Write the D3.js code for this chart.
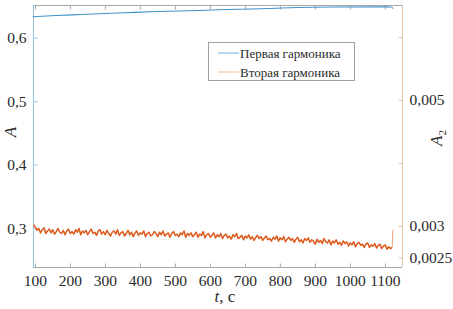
<!DOCTYPE html>
<html><head><meta charset="utf-8">
<script src="https://cdn.jsdelivr.net/npm/d3@7"></script>
<style>body{margin:0;background:#fff}svg{display:block}</style>
</head><body><svg id="c" width="453" height="309"></svg>
<script>
const xTicks = [100,200,300,400,500,600,700,800,900,1000,1100];
const leftTicks = [0.3,0.4,0.5,0.6];
const leftTickLabels = ["0,3","0,4","0,5","0,6"];
const rightTicks = [0.0025,0.003,0.004,0.005,0.006];
const rightTickLabels = ["0,0025","0,003","","0,005",""];
const seriesNames = ["Первая гармоника","Вторая гармоника"];

// first harmonic (left axis)
const firstT = [94,160,230,300,357,450,570,650,770,850,950,1100,1118,1124];
const firstA = [0.6331,0.6350,0.6366,0.6382,0.6394,0.6413,0.6429,0.6445,0.6461,0.6476,0.6484,0.6487,0.6485,0.6460];

// second harmonic (right axis), sampled every 5 s from t = 96 s
const sampleStart = 96, sampleStep = 5;
const secondA = [
0.00302,0.00298,0.00293,0.00296,0.00289,0.00294,0.00297,0.00288,0.00292,0.00295,
0.00289,0.00294,0.00287,0.00291,0.00296,0.00290,0.00288,0.00293,0.00286,0.00292,
0.00295,0.00288,0.00291,0.00287,0.00294,0.00290,0.00296,0.00286,0.00292,0.00289,
0.00293,0.00286,0.00291,0.00295,0.00288,0.00290,0.00285,0.00292,0.00294,0.00287,
0.00291,0.00286,0.00293,0.00288,0.00284,0.00290,0.00292,0.00287,0.00294,0.00285,
0.00289,0.00291,0.00284,0.00288,0.00293,0.00286,0.00290,0.00283,0.00289,0.00292,
0.00285,0.00289,0.00287,0.00292,0.00283,0.00288,0.00290,0.00284,0.00286,0.00291,
0.00288,0.00283,0.00290,0.00286,0.00292,0.00284,0.00287,0.00289,0.00282,0.00288,
0.00291,0.00285,0.00287,0.00283,0.00289,0.00286,0.00292,0.00282,0.00288,0.00285,
0.00289,0.00283,0.00286,0.00290,0.00282,0.00287,0.00285,0.00291,0.00281,0.00286,
0.00288,0.00282,0.00285,0.00289,0.00281,0.00286,0.00283,0.00288,0.00280,0.00285,
0.00287,0.00281,0.00284,0.00279,0.00286,0.00283,0.00288,0.00280,0.00282,0.00285,
0.00278,0.00284,0.00281,0.00286,0.00279,0.00283,0.00277,0.00282,0.00285,0.00280,
0.00283,0.00277,0.00281,0.00284,0.00278,0.00280,0.00276,0.00282,0.00279,0.00284,
0.00276,0.00281,0.00278,0.00283,0.00275,0.00279,0.00282,0.00277,0.00280,0.00274,
0.00279,0.00282,0.00275,0.00278,0.00273,0.00280,0.00277,0.00281,0.00274,0.00278,
0.00276,0.00271,0.00279,0.00274,0.00277,0.00272,0.00280,0.00275,0.00273,0.00278,
0.00270,0.00276,0.00273,0.00278,0.00271,0.00274,0.00269,0.00276,0.00272,0.00275,
0.00268,0.00273,0.00270,0.00275,0.00267,0.00272,0.00274,0.00269,0.00271,0.00266,
0.00271,0.00273,0.00266,0.00270,0.00268,0.00272,0.00265,0.00269,0.00271,0.00264,
0.00268,0.00270,0.00263,0.00267,0.00264,0.00266];
const spikeT = [1121,1123];
const spikeA = [0.00266,0.00294];

const FONT = '"Liberation Serif","Times New Roman","Nimbus Roman","Tinos","DejaVu Serif",serif';
const TXT = "#2a2a2a";

const svg = d3.select("#c");
const L = 33, R = 402, T = 5, B = 267;
const x = d3.scaleLinear().domain([94.5,1149]).range([L,R]);
const yL = d3.scaleLinear().domain([0.2386,0.6516]).range([B,T]);
const yR = d3.scaleLinear().domain([0.002348,0.006508]).range([B,T]);

const blueAxis = "#95c3e6", orangeAxis = "#e9c6a6", grayAxis = "#a8a8a8";

svg.append("line").attr("x1",L).attr("x2",R).attr("y1",T+0.5).attr("y2",T+0.5).attr("stroke",grayAxis);
svg.append("line").attr("x1",L).attr("x2",R).attr("y1",B+0.5).attr("y2",B+0.5).attr("stroke",grayAxis);

const gx = svg.append("g").attr("transform",`translate(0,${B+0.5})`)
  .call(d3.axisBottom(x).tickValues(xTicks).tickSize(-4).tickPadding(7).tickFormat(d3.format("d")));
gx.select(".domain").remove();
gx.selectAll(".tick line").attr("stroke",grayAxis);
const gxt = svg.append("g").attr("transform",`translate(0,${T+0.5})`)
  .call(d3.axisTop(x).tickValues(xTicks).tickSize(-4).tickFormat(""));
gxt.select(".domain").remove();
gxt.selectAll(".tick line").attr("stroke",grayAxis);

const gl = svg.append("g").attr("transform",`translate(${L+0.5},0)`)
  .call(d3.axisLeft(yL).tickValues(leftTicks).tickSize(-4).tickPadding(7).tickFormat((d,i)=>leftTickLabels[i]));
gl.select(".domain").attr("stroke",blueAxis).attr("d",`M0,${T}V${B}`);
gl.selectAll(".tick line").attr("stroke",blueAxis);

const gr = svg.append("g").attr("transform",`translate(${R+0.5},0)`)
  .call(d3.axisRight(yR).tickValues(rightTicks).tickSize(-4).tickPadding(7).tickFormat((d,i)=>rightTickLabels[i]));
gr.select(".domain").attr("stroke",orangeAxis).attr("d",`M0,${T}V${B}`);
gr.selectAll(".tick line").attr("stroke",orangeAxis);

[gx,gl,gr].forEach(g=>g.attr("font-family",FONT).selectAll("text").attr("font-family",FONT).attr("font-size",15.5).attr("fill",TXT));

const line1 = d3.line().x((d,i)=>x(firstT[i])).y(d=>yL(d)).curve(d3.curveMonotoneX);
svg.append("path").attr("d",line1(firstA)).attr("fill","none").attr("stroke","#3f92cc").attr("stroke-width",1.1);

const line2 = d3.line().x((d,i)=>x(sampleStart+i*sampleStep)).y(d=>yR(d));
svg.append("path").attr("d",line2(secondA)).attr("fill","none").attr("stroke","#dd5a1c").attr("stroke-width",1.5).attr("stroke-linejoin","round");
const line3 = d3.line().x((d,i)=>x(spikeT[i])).y(d=>yR(d));
svg.append("path").attr("d",line3(spikeA)).attr("fill","none").attr("stroke","#eaa27a").attr("stroke-width",1);

svg.append("text").attr("transform","translate(16,132) rotate(-90)").attr("text-anchor","middle")
  .attr("font-family",FONT).attr("fill",TXT).attr("font-size",17).attr("font-style","italic").text("A");
const a2 = svg.append("text").attr("transform","translate(442,138) rotate(-90)").attr("text-anchor","middle")
  .attr("font-family",FONT).attr("fill",TXT).attr("font-size",17).attr("font-style","italic");
a2.append("tspan").text("A");
a2.append("tspan").attr("font-size",11).attr("dy",4).attr("font-style","normal").text("2");
const xt = svg.append("text").attr("x",225).attr("y",302).attr("text-anchor","middle")
  .attr("font-family",FONT).attr("fill",TXT).attr("font-size",17);
xt.append("tspan").attr("font-style","italic").text("t");
xt.append("tspan").text(", с");

const lg = svg.append("g");
lg.append("rect").attr("x",208.5).attr("y",42.5).attr("width",146).attr("height",38)
  .attr("fill","#fff").attr("stroke","#a0a0a0");
const legColors = ["#6fb0dc","#eec09a"];
seriesNames.forEach((n,i)=>{
  const yy = 53 + i*19;
  lg.append("line").attr("x1",218).attr("x2",239).attr("y1",yy).attr("y2",yy).attr("stroke",legColors[i]).attr("stroke-width",1);
  lg.append("text").attr("x",240).attr("y",yy+4.5).attr("font-family",FONT).attr("fill",TXT).attr("font-size",13).text(n);
});
</script></body></html>
